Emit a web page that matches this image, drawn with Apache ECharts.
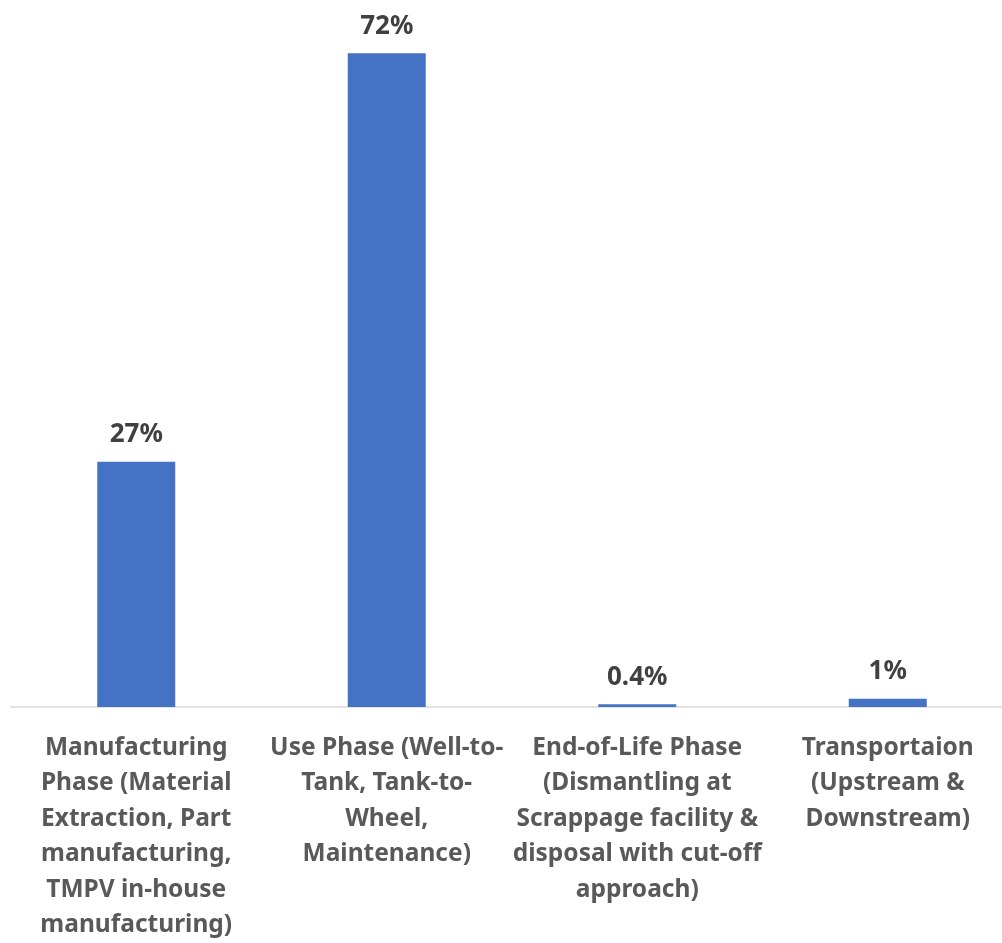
<!DOCTYPE html>
<html><head><meta charset="utf-8">
<script src="https://cdn.jsdelivr.net/npm/echarts@6/dist/echarts.min.js"></script>
<style>html,body{margin:0;padding:0;background:#fff;overflow:hidden;width:1002px;height:943px}#c{width:1013px;height:943px}</style>
</head><body><div id="c"></div>
<script>
const categories = [
  "Manufacturing\nPhase (Material\nExtraction, Part\nmanufacturing,\nTMPV in-house\nmanufacturing)",
  "Use Phase (Well-to-\nTank, Tank-to-\nWheel,\nMaintenance)",
  "End-of-Life Phase\n(Dismantling at\nScrappage facility &\ndisposal with cut-off\napproach)",
  "Transportaion\n(Upstream &\nDownstream)"
];
const values = [27, 72, 0.3, 0.9];
const valueLabels = ["27%", "72%", "0.4%", "1%"];

const chart = echarts.init(document.getElementById('c'));
chart.setOption({
  animation: false,
  grid: {left: 11, right: 0, top: 17, bottom: 230, containLabel: false},
  xAxis: {
    type: 'category', data: categories,
    axisLine: {lineStyle: {color: '#d9d9d9', width: 1.5}},
    axisTick: {show: false},
    axisLabel: {interval: 0, color: '#595959', fontFamily: 'Noto Sans', fontWeight: 'bold',
      fontSize: 24.5, lineHeight: 35.5, margin: 23}
  },
  yAxis: {type: 'value', min: 0, max: 76, show: false, splitLine: {show: false}},
  series: [{
    type: 'bar', data: values, barWidth: 78,
    itemStyle: {color: '#4472C4'},
    label: {show: true, position: 'top', distance: 14,
      formatter: p => valueLabels[p.dataIndex],
      color: '#404040', fontFamily: 'Noto Sans', fontWeight: 'bold', fontSize: 26}
  }]
});
</script></body></html>
